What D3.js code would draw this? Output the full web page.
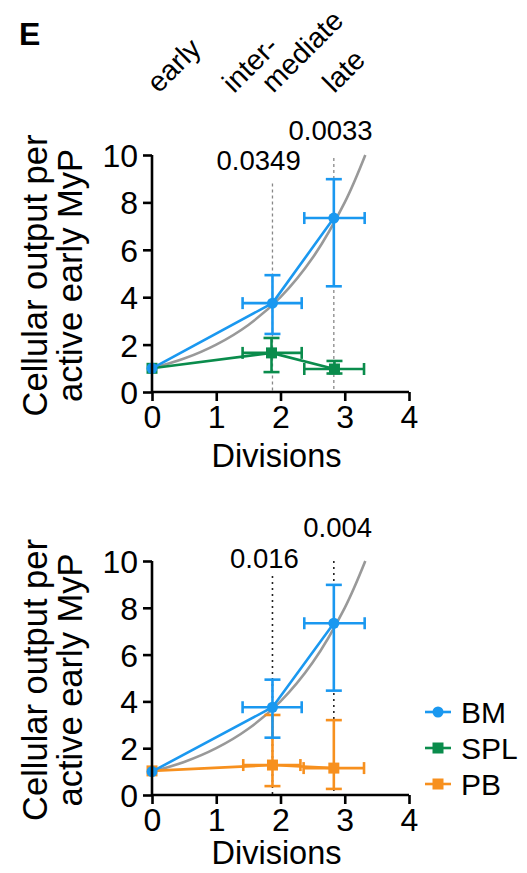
<!DOCTYPE html>
<html><head><meta charset="utf-8">
<script src="https://cdn.jsdelivr.net/npm/d3@7"></script>
<style>body{margin:0;background:#fff}svg{display:block}text{font-family:"Liberation Sans",Arial,sans-serif;fill:#000}</style>
</head><body>
<svg id="c" width="527" height="873"></svg>
<script>
// ---- data ----
const xTicks = [0, 1, 2, 3, 4];
const yTicks = [0, 2, 4, 6, 8, 10];
const stageLabels = [
  {text: "early", x: 0.06},
  {text: "inter-", x: 1.23},
  {text: "mediate", x: 1.84},
  {text: "late", x: 2.79}
];
// theoretical doubling curve
const refCurve = [[0,1],[0.5,1.41],[1,2],[1.5,2.83],[2,4],[2.5,5.66],[3,8],[3.32,10]];
// points: x, y, xLo, xHi, yLo, yHi
const bm = [
  {x:0, y:1, xl:0, xh:0, yl:1, yh:1},
  {x:1.875, y:3.75, xl:1.41, xh:2.33, yl:2.45, yh:4.93},
  {x:2.83, y:7.34, xl:2.37, xh:3.31, yl:4.46, yh:8.98}
];
const spl = [
  {x:0, y:1, xl:0, xh:0, yl:1, yh:1},
  {x:1.86, y:1.65, xl:1.41, xh:2.33, yl:0.84, yh:2.28},
  {x:2.84, y:0.97, xl:2.37, xh:3.30, yl:0.78, yh:1.31}
];
const pb = [
  {x:0, y:1.03, xl:0, xh:0, yl:1.03, yh:1.03},
  {x:1.875, y:1.28, xl:1.42, xh:2.31, yl:0.38, yh:3.42},
  {x:2.83, y:1.15, xl:2.36, xh:3.30, yl:0.26, yh:3.2}
];
const pTop = [{t:"0.0349", x:1.66, y:9.37, lineX:1.875, lineTop:8.8},
              {t:"0.0033", x:2.78, y:10.63, lineX:2.83, lineTop:9.87}];
const pBot = [{t:"0.016", x:1.75, y:9.7, lineX:1.875, lineTop:9.36},
              {t:"0.004", x:2.89, y:11.03, lineX:2.83, lineTop:10.0}];
const legendItems = [{name:"BM", color:"#1a98f0", shape:"circle"},
                     {name:"SPL", color:"#0a8c4c", shape:"square"},
                     {name:"PB", color:"#f7901e", shape:"square"}];
const colors = {BM:"#1a98f0", SPL:"#0a8c4c", PB:"#f7901e", ref:"#999999"};

const svg = d3.select("#c");
const x = d3.scaleLinear().domain([0,4]).range([152,409]);

svg.append("text").attr("x",19).attr("y",45).attr("font-size",32).attr("font-weight","bold").text("E");

// stage labels
svg.selectAll("text.stage").data(stageLabels).enter().append("text")
  .attr("class","stage").attr("font-size",28.5)
  .attr("transform", d => `translate(${x(d.x)+3},94) rotate(-45)`)
  .text(d => d.text);

function panel(y, second, pvals, dotStyle, titleOffset) {
  const g = svg.append("g");
  // reference curve
  g.append("path").datum(refCurve)
    .attr("d", d3.line().x(d=>x(d[0])).y(d=>y(d[1])).curve(d3.curveCatmullRom))
    .attr("fill","none").attr("stroke",colors.ref).attr("stroke-width",2.6);
  // dotted lines
  g.selectAll("line.p").data(pvals).enter().append("line")
    .attr("x1",d=>x(d.lineX)).attr("x2",d=>x(d.lineX))
    .attr("y1",d=>y(d.lineTop)).attr("y2",y(0))
    .attr("stroke",dotStyle.color).attr("stroke-width",dotStyle.w).attr("stroke-dasharray",dotStyle.dash);
  g.selectAll("text.p").data(pvals).enter().append("text")
    .attr("x",d=>x(d.x)).attr("y",d=>y(d.y)).attr("text-anchor","middle").attr("font-size",27.5)
    .text(d=>d.t);

  function series(data, color, shape) {
    const s = g.append("g");
    s.append("path").datum(data).attr("d", d3.line().x(d=>x(d.x)).y(d=>y(d.y)))
      .attr("fill","none").attr("stroke",color).attr("stroke-width",2.6);
    const e = data.filter(d=>d.x>0);
    const cap = 8;
    e.forEach(d=>{
      const st = {stroke:color, "stroke-width":2.6};
      const ln = (x1,y1,x2,y2)=>{const l=s.append("line").attr("x1",x1).attr("y1",y1).attr("x2",x2).attr("y2",y2);Object.entries(st).forEach(([k,v])=>l.attr(k,v));};
      ln(x(d.x),y(d.yl),x(d.x),y(d.yh));
      ln(x(d.x)-cap,y(d.yl),x(d.x)+cap,y(d.yl));
      ln(x(d.x)-cap,y(d.yh),x(d.x)+cap,y(d.yh));
      ln(x(d.xl),y(d.y),x(d.xh),y(d.y));
      ln(x(d.xl),y(d.y)-6,x(d.xl),y(d.y)+6);
      ln(x(d.xh),y(d.y)-6,x(d.xh),y(d.y)+6);
    });
    if (shape==="circle") {
      s.selectAll("circle").data(data).enter().append("circle")
        .attr("cx",d=>x(d.x)).attr("cy",d=>y(d.y)).attr("r",5.5).attr("fill",color);
    } else {
      s.selectAll("rect").data(data).enter().append("rect")
        .attr("x",d=>x(d.x)-5.5).attr("y",d=>y(d.y)-5.5).attr("width",11).attr("height",11).attr("fill",color);
    }
  }
  series(second.data, second.color, "square");
  series(bm, colors.BM, "circle");

  // axes
  const ax = g.append("g").attr("transform",`translate(0,${y(0)})`)
    .call(d3.axisBottom(x).tickValues(xTicks).tickSize(9).tickPadding(4).tickFormat(d3.format("d")));
  const ay = g.append("g").attr("transform",`translate(${x(0)},0)`)
    .call(d3.axisLeft(y).tickValues(yTicks).tickSize(9).tickPadding(5).tickFormat(d3.format("d")));
  [ax,ay].forEach(a=>{
    a.select(".domain").attr("stroke","#000").attr("stroke-width",2.6).attr("d", null);
    a.selectAll(".tick line").attr("stroke","#000").attr("stroke-width",2.6);
    a.selectAll(".tick text").attr("font-size",32).attr("fill","#000").attr("font-family","Liberation Sans, Arial, sans-serif");
  });
  ax.select(".domain").attr("d",`M${x(0)},0H${x(4)}`);
  ay.select(".domain").attr("d",`M0,${y(0)}V${y(10)}`);
  ay.selectAll(".tick text").attr("dy","0.36em");
  ax.selectAll(".tick text").attr("dy","0.72em");

  // axis titles
  g.append("text").attr("x",(x(0)+x(4))/2-4).attr("y",y(0)+titleOffset).attr("text-anchor","middle").attr("font-size",32.5).text("Divisions");
  const cy = (y(0)+y(10))/2;
  g.append("text").attr("transform",`translate(47,${cy+2}) rotate(-90)`).attr("text-anchor","middle").attr("font-size",34.5).text("Cellular output per");
  g.append("text").attr("transform",`translate(82,${cy+2}) rotate(-90)`).attr("text-anchor","middle").attr("font-size",34.5).text("active early MyP");
}

panel(d3.scaleLinear().domain([0,10]).range([392,155]), {data:spl, color:colors.SPL}, pTop, {color:"#888", w:1.3, dash:"3,3"}, 75);
panel(d3.scaleLinear().domain([0,10]).range([795,561]), {data:pb, color:colors.PB}, pBot, {color:"#222", w:1.6, dash:"2,4"}, 69);

// legend
const lg = svg.append("g");
legendItems.forEach((d,i)=>{
  const yy = 712 + i*36;
  lg.append("line").attr("x1",425).attr("x2",451).attr("y1",yy).attr("y2",yy).attr("stroke",d.color).attr("stroke-width",2.6);
  if (d.shape==="circle") lg.append("circle").attr("cx",438).attr("cy",yy).attr("r",5.5).attr("fill",d.color);
  else lg.append("rect").attr("x",432.5).attr("y",yy-5.5).attr("width",11).attr("height",11).attr("fill",d.color);
  lg.append("text").attr("x",461).attr("y",yy+11).attr("font-size",30).text(d.name);
});
</script>
</body></html>
